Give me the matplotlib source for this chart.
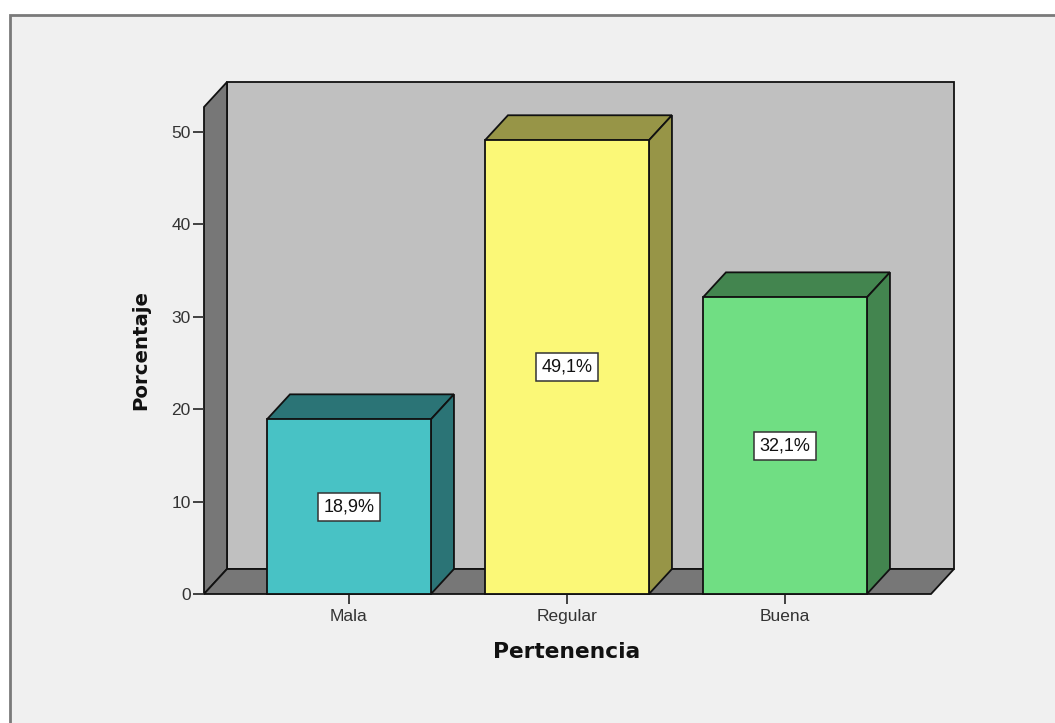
import matplotlib
matplotlib.use('Agg')
import matplotlib.pyplot as plt
from matplotlib.patches import Polygon, Rectangle

categories = ['Mala', 'Regular', 'Buena']
values = [18.9, 49.1, 32.1]
labels = ['18,9%', '49,1%', '32,1%']
front_colors = ['#48c2c5', '#fbf877', '#70de83']
side_colors = ['#2b7476', '#979547', '#43854f']
y_ticks = [0, 10, 20, 30, 40, 50]

W, H = 1055, 723
plt.rcParams['font.family'] = ['Liberation Sans', 'DejaVu Sans']

fig = plt.figure(figsize=(W / 100, H / 100), dpi=100, facecolor='white')

# panel behind the chart, runs off the right and bottom edges
fig.add_artist(Rectangle((10 / W, -0.02), 1.05, 1.02 - 15 / H, transform=fig.transFigure,
                         facecolor='#f0f0f0', edgecolor='#7a7a7a', linewidth=2, zorder=-1))

# axes cover the front plane of the box
ax = fig.add_axes([204 / W, (H - 594) / H, 727 / W, 487 / H])
ax.set_xlim(-0.665, 2.67)
ax.set_ylim(0, 52.7)
ax.patch.set_visible(False)

# depth of the 3D look, in data units
dx = 23 / 218
dy = 25 / 9.24
bar_w = 164 / 218
x0, x1 = ax.get_xlim()
top = ax.get_ylim()[1]
edge = '#111111'


def poly(points, color, z):
    ax.add_patch(Polygon(points, closed=True, facecolor=color, edgecolor=edge,
                         linewidth=1.3, clip_on=False, zorder=z, joinstyle='miter'))


# back wall, side wall, floor
poly([(x0 + dx, dy), (x1 + dx, dy), (x1 + dx, top + dy), (x0 + dx, top + dy)], '#c0c0c0', 1)
poly([(x0, 0), (x0 + dx, dy), (x0 + dx, top + dy), (x0, top)], '#777777', 1.1)
poly([(x0, 0), (x1, 0), (x1 + dx, dy), (x0 + dx, dy)], '#777777', 1.2)

for i, v in enumerate(values):
    left = i - bar_w / 2
    right = i + bar_w / 2
    poly([(left, v), (right, v), (right + dx, v + dy), (left + dx, v + dy)], side_colors[i], 3)
    poly([(right, 0), (right + dx, dy), (right + dx, v + dy), (right, v)], side_colors[i], 3)
    poly([(left, 0), (right, 0), (right, v), (left, v)], front_colors[i], 4)
    ax.text(i, v / 2, labels[i], ha='center', va='center', fontsize=13, color='#111111', zorder=5,
            bbox=dict(boxstyle='square,pad=0.3', facecolor='white', edgecolor='#333333', linewidth=1.1))

for s in ax.spines.values():
    s.set_visible(False)

ax.set_xticks(range(len(categories)))
ax.set_xticklabels(categories)
ax.set_yticks(y_ticks)
ax.tick_params(axis='y', length=8, width=1.3, color='#333333', labelsize=12.5,
               labelcolor='#333333', pad=1.5)
ax.tick_params(axis='x', length=7, width=1.3, color='#333333', labelsize=12.5,
               labelcolor='#333333', pad=4)

fig.text(567 / W, 1 - 652 / H, 'Pertenencia', ha='center', va='center', fontsize=15.7,
         fontweight='bold', color='#111111', family=['DejaVu Sans'])
fig.text(141 / W, 1 - 350 / H, 'Porcentaje', ha='center', va='center', rotation=90, fontsize=14.2,
         fontweight='bold', color='#111111', family=['DejaVu Sans'])

fig.savefig('out.png', dpi=100, facecolor=fig.get_facecolor())
